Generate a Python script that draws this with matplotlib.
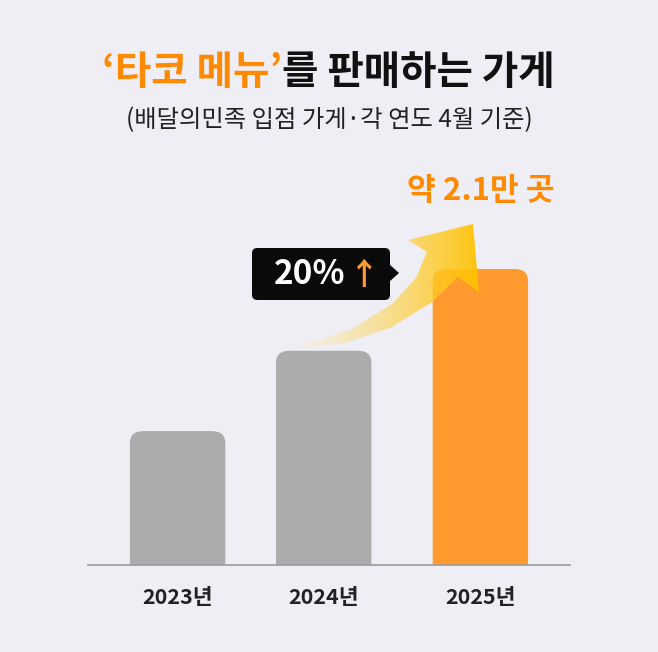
import matplotlib
matplotlib.use("Agg")
import matplotlib.pyplot as plt
import numpy as np
from matplotlib.patches import FancyBboxPatch, Polygon

plt.rcParams['font.family'] = ['Noto Sans CJK KR', 'DejaVu Sans']

years = ['2023년', '2024년', '2025년']
values = [0.95, 1.52, 2.1]
colors = ['#acacac', '#acacac', '#ff9a2e']
bg = '#eeeef4'

W, H = 658, 652
fig = plt.figure(figsize=(W/100, H/100), dpi=100, facecolor=bg)
def fx(px): return px / W
def fy(py): return 1 - py / H

ax = fig.add_axes([fx(88), fy(565), fx(570) - fx(88), fy(150) - fy(565)])
ax.set_facecolor(bg)
ax.set_xlim(-0.592, 2.592)
ax.set_ylim(0, 2.1 * 415 / 296)
pos = [0, 0.965, 2]
w = 0.63
for x, v, c in zip(pos, values, colors):
    p = FancyBboxPatch((x - w/2, -0.2), w, v + 0.2,
                       boxstyle="round,pad=0,rounding_size=0.09",
                       mutation_aspect=141/151, fc=c, ec='none')
    ax.add_patch(p)
for s in ['top', 'right', 'left']:
    ax.spines[s].set_visible(False)
ax.spines['bottom'].set_color('#9a9a9a')
ax.spines['bottom'].set_linewidth(1.2)
ax.set_yticks([])
ax.set_xticks(pos)
ax.set_xticklabels(years, fontsize=15.5, fontweight='bold', color='#222222')
ax.tick_params(axis='x', length=0, pad=16)

# overlay in pixel coordinates for the decorative arrow
ov = fig.add_axes([0, 0, 1, 1], zorder=5)
ov.set_xlim(0, W); ov.set_ylim(H, 0); ov.axis('off')
ov.patch.set_alpha(0)
pts = [(298, 346), (350, 330), (392, 304), (416, 278), (427, 252),
       (408, 240), (473, 224), (479, 292), (458, 277),
       (432, 302), (392, 327), (345, 343), (300, 348)]
poly = Polygon(pts, closed=True, fc='none', ec='none')
ov.add_patch(poly)
xs = np.linspace(0, 1, 200)
grad = np.zeros((1, 200, 4))
c0 = np.array([1.0, 0.93, 0.75]); c1 = np.array([1.0, 0.76, 0.0])
t = xs ** 0.8
grad[0, :, :3] = c0 * (1 - t[:, None]) + c1 * t[:, None]
grad[0, :, 3] = 0.15 + 0.8 * t
im = ov.imshow(grad, extent=(295, 480, 350, 220), aspect='auto', interpolation='bilinear')
im.set_clip_path(poly)

# label box
box = FancyBboxPatch((fx(252), fy(300)), fx(390) - fx(252), fy(248) - fy(300),
                     boxstyle="round,pad=0,rounding_size=0.008",
                     transform=fig.transFigure, fc='#0a0a0a', ec='none', zorder=6)
fig.add_artist(box)
fig.add_artist(Polygon([[fx(389), fy(264)], [fx(399), fy(273)], [fx(389), fy(282)]],
                       closed=True, transform=fig.transFigure, fc='#0a0a0a', ec='none', zorder=6))
fig.text(fx(346), fy(275), '20%', ha='right', va='center', color='white',
         fontsize=24, fontweight='bold', zorder=7)
fig.text(fx(349), fy(275), '↑', ha='left', va='center', color='#ff9a2e',
         fontsize=22, fontweight='bold', zorder=7)

fig.text(fx(481), fy(191), '약 2.1만 곳', ha='center', va='center', color='#ff8a00',
         fontsize=22.5, fontweight='bold')

fig.text(fx(282), fy(72), '‘타코 메뉴’', ha='right', va='center', color='#ff8a00',
         fontsize=28.5, fontweight='bold')
fig.text(fx(282), fy(72), '를 판매하는 가게', ha='left', va='center', color='#111111',
         fontsize=28.5, fontweight='bold')
fig.text(0.5, fy(120), '(배달의민족 입점 가게·각 연도 4월 기준)', ha='center', va='center',
         color='#222222', fontsize=17.5)

fig.savefig('out.png', dpi=100, facecolor=bg)
